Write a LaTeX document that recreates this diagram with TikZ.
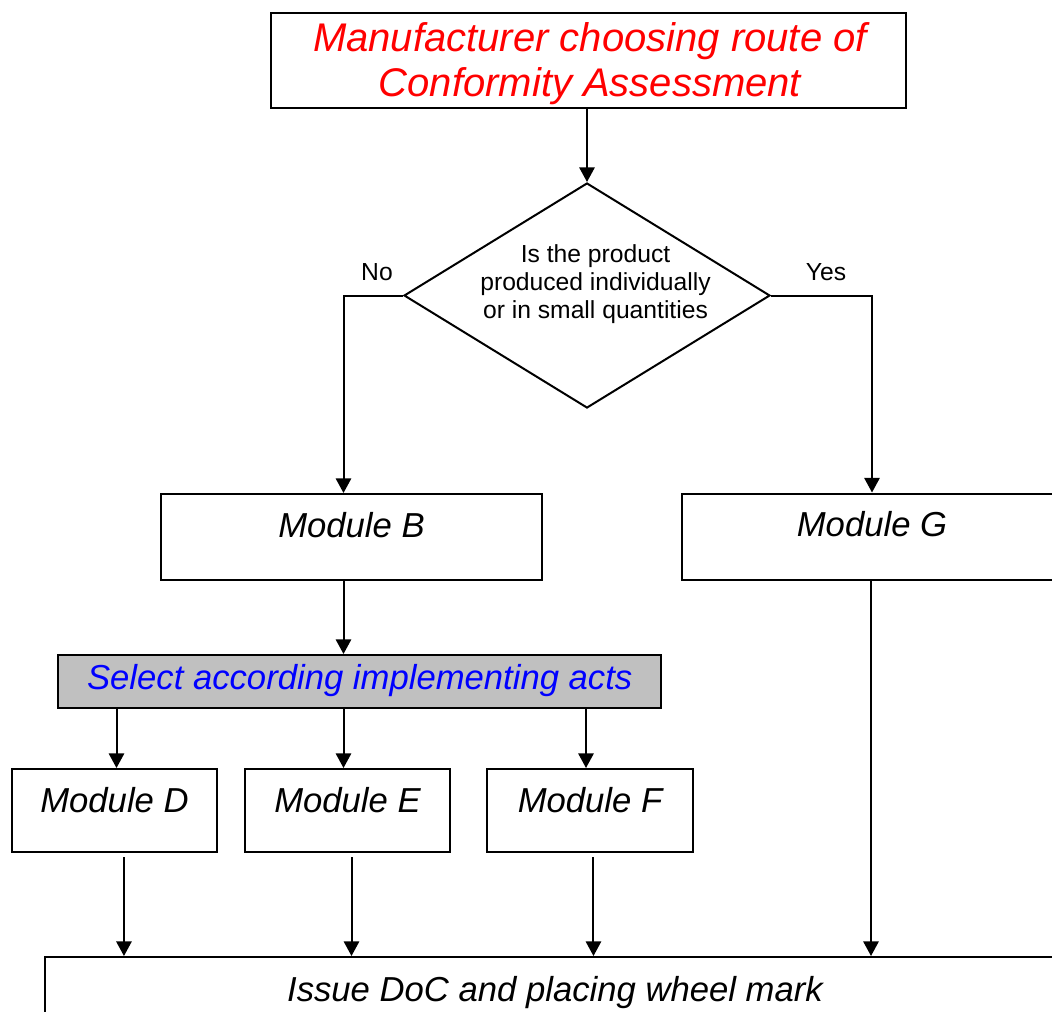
\documentclass[tikz,border=0pt]{standalone}
\usepackage{fontspec}
\setmainfont{Liberation Sans}
\usetikzlibrary{arrows.meta,shapes.geometric}
\definecolor{boxgray}{RGB}{192,192,192}
\begin{document}
\begin{tikzpicture}[x=0.75pt,y=-0.75pt,
  line width=1.5pt,
  box/.style={draw=black, line width=1.5pt, inner sep=0pt, fill=white},
  modbox/.style={box, font=\fontsize{26pt}{31pt}\selectfont\itshape,
    text height=32.25pt, text depth=32.25pt},
  lowbox/.style={box, minimum width=153.75pt, font=\fontsize{26pt}{31pt}\selectfont\itshape,
    text height=32.25pt, text depth=30pt},
  flow/.style={-{Triangle[length=11pt,width=11.5pt]}, line width=1.5pt},
  qtext/.style={font=\fontsize{18.5pt}{21pt}\selectfont, inner sep=0pt}
]
\clip (0,0) rectangle (1052,1011);

% top decision start
\node[box, minimum width=476.25pt, minimum height=71.25pt] (T) at (588.5,60.5) {};
\node[inner sep=0pt, align=center, text=red,
      font=\fontsize{30pt}{33.75pt}\selectfont\itshape] (title) at (590,64.1)
      {Manufacturer choosing route of\\Conformity Assessment};

% question
\node[draw, diamond, line width=1.5pt, inner sep=0pt,
      minimum width=274.5pt, minimum height=168.75pt] (Q) at (587,295.5) {};
\node[qtext, align=center] (qt) at (595.5,284.2)
      {Is the product\\produced individually\\or in small quantities};
\node[qtext, anchor=base] (no) at (377,280) {No};
\node[qtext, anchor=base] (yes) at (826,280) {Yes};

% modules
\node[modbox, minimum width=285.75pt] (B) at (351.5,537) {Module B};
\node[modbox, minimum width=285.75pt] (G) at (872,536.5) {Module G};

\node[box, fill=boxgray, minimum width=451.9pt, text=blue,
      font=\fontsize{26pt}{31pt}\selectfont\itshape,
      text height=25.5pt, text depth=14.25pt] (S) at (359.75,681.5)
      {Select according implementing acts};

\node[lowbox] (D) at (114.5,810.5) {Module D};
\node[lowbox] (E) at (347.5,810.5) {Module E};
\node[lowbox, minimum width=154.5pt] (F) at (590,810.5) {Module F};

\node[modbox, minimum width=765pt, text height=33pt, text depth=33pt] (W) at (555,1001)
      {Issue DoC and placing wheel mark};

% connectors
\coordinate (colL) at (343.5,0);
\draw[flow] (Q.north |- T.south) -- (Q.north);
\draw[flow] (Q.west) -| (colL |- B.north);
\draw[flow] (Q.east) -| (G.north);
\draw[flow] (colL |- B.south) -- (colL |- S.north);

\draw[flow] ([xshift=1.5pt]D.north |- S.south) -- ([xshift=1.5pt]D.north);
\draw[flow] (colL |- S.south) -- (colL |- E.north);
\draw[flow] ([xshift=-3pt]F.north |- S.south) -- ([xshift=-3pt]F.north);

\draw[flow] ([xshift=7.1pt,yshift=-3pt]D.south) -- ([xshift=7.1pt]D.south |- W.north);
\draw[flow] ([xshift=3pt,yshift=-3pt]E.south) -- ([xshift=3pt]E.south |- W.north);
\draw[flow] ([xshift=2.6pt,yshift=-3pt]F.south) -- ([xshift=2.6pt]F.south |- W.north);
\draw[flow] ([xshift=-0.75pt]G.south) -- ([xshift=-0.75pt]G.south |- W.north);
\end{tikzpicture}
\end{document}
